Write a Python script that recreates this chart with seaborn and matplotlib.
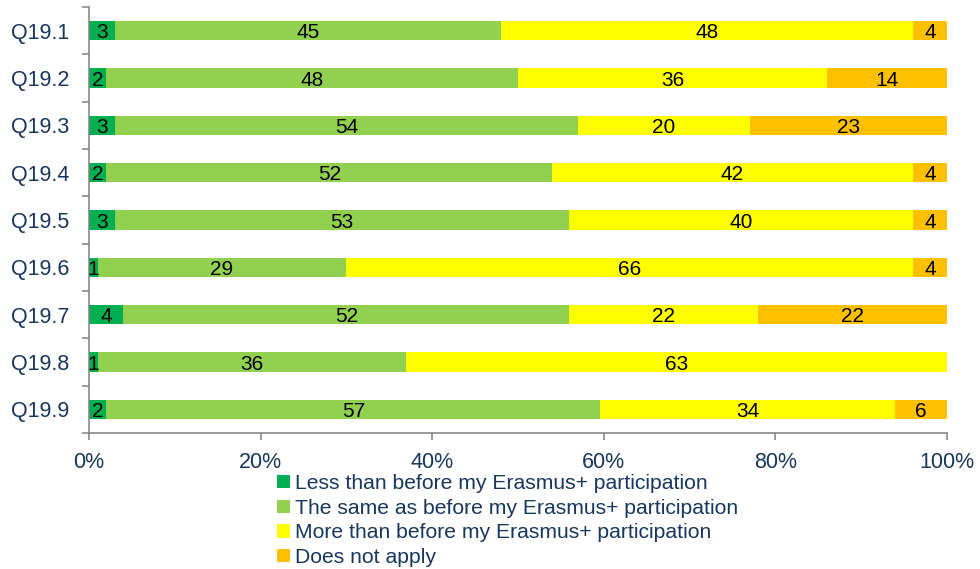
import numpy as np
import pandas as pd
import matplotlib
matplotlib.use("Agg")
import matplotlib.pyplot as plt
from matplotlib.patches import Patch
import seaborn as sns

questions = ["Q19.1", "Q19.2", "Q19.3", "Q19.4", "Q19.5", "Q19.6", "Q19.7", "Q19.8", "Q19.9"]
less = [3, 2, 3, 2, 3, 1, 4, 1, 2]
same = [45, 48, 54, 52, 53, 29, 52, 36, 57]
more = [48, 36, 20, 42, 40, 66, 22, 63, 34]
not_apply = [4, 14, 23, 4, 4, 4, 22, 0, 6]

series_names = [
    "Less than before my Erasmus+ participation",
    "The same as before my Erasmus+ participation",
    "More than before my Erasmus+ participation",
    "Does not apply",
]
colors = ["#00B050", "#92D050", "#FFFF00", "#FFC000"]
x_ticks = [0, 20, 40, 60, 80, 100]

text_color = "#17375E"
spine_color = "#808080"

sns.set_style("white")
plt.rcParams["font.family"] = ["Liberation Sans", "DejaVu Sans"]

values = np.array([less, same, more, not_apply], dtype=float)
pct = values / values.sum(axis=0) * 100
cum = np.cumsum(pct, axis=0)

fig = plt.figure(figsize=(9.8, 5.69), dpi=100)
ax = fig.add_axes([0.0908, 0.239, 0.8755, 0.7485])

# draw cumulative bars back to front so each segment shows
for i in range(len(series_names) - 1, -1, -1):
    df = pd.DataFrame({"q": questions, "v": cum[i]})
    sns.barplot(data=df, x="v", y="q", orient="h", color=colors[i],
                saturation=1, width=0.41, ax=ax, linewidth=0)

# segment labels
for i in range(len(series_names)):
    for j, q in enumerate(questions):
        v = values[i, j]
        if v == 0:
            continue
        center = cum[i, j] - pct[i, j] / 2
        ax.text(center, j, f"{int(v)}", ha="center", va="center_baseline",
                fontsize=15, color="black")

ax.set_xlim(0, 100)
ax.set_ylim(len(questions) - 0.5, -0.5)
ax.set_xticks(x_ticks)
ax.set_xticklabels([f"{t}%" for t in x_ticks])
ax.set_xlabel("")
ax.set_ylabel("")

ax.set_yticks(np.arange(-0.5, len(questions) + 0.5, 1), minor=True)
ax.tick_params(axis="y", which="major", length=0, pad=14,
               labelsize=15.5, labelcolor=text_color)
ax.tick_params(axis="y", which="minor", length=5, width=1.1,
               color=spine_color, left=True)
ax.tick_params(axis="x", which="major", length=5, width=1.1, bottom=True,
               color=spine_color, pad=9, labelsize=15.5, labelcolor=text_color)

for side in ["top", "right"]:
    ax.spines[side].set_visible(False)
for side in ["left", "bottom"]:
    ax.spines[side].set_color(spine_color)
    ax.spines[side].set_linewidth(1.1)

handles = [Patch(facecolor=c, edgecolor="none") for c in colors]
leg = fig.legend(handles, series_names, loc="upper left",
                 bbox_to_anchor=(0.283, 0.167), frameon=False,
                 fontsize=15.2, handlelength=0.6, handleheight=0.6,
                 handletextpad=0.25, labelspacing=0.27, borderpad=0,
                 borderaxespad=0)
for t in leg.get_texts():
    t.set_color(text_color)

fig.savefig("out.png", dpi=100)
